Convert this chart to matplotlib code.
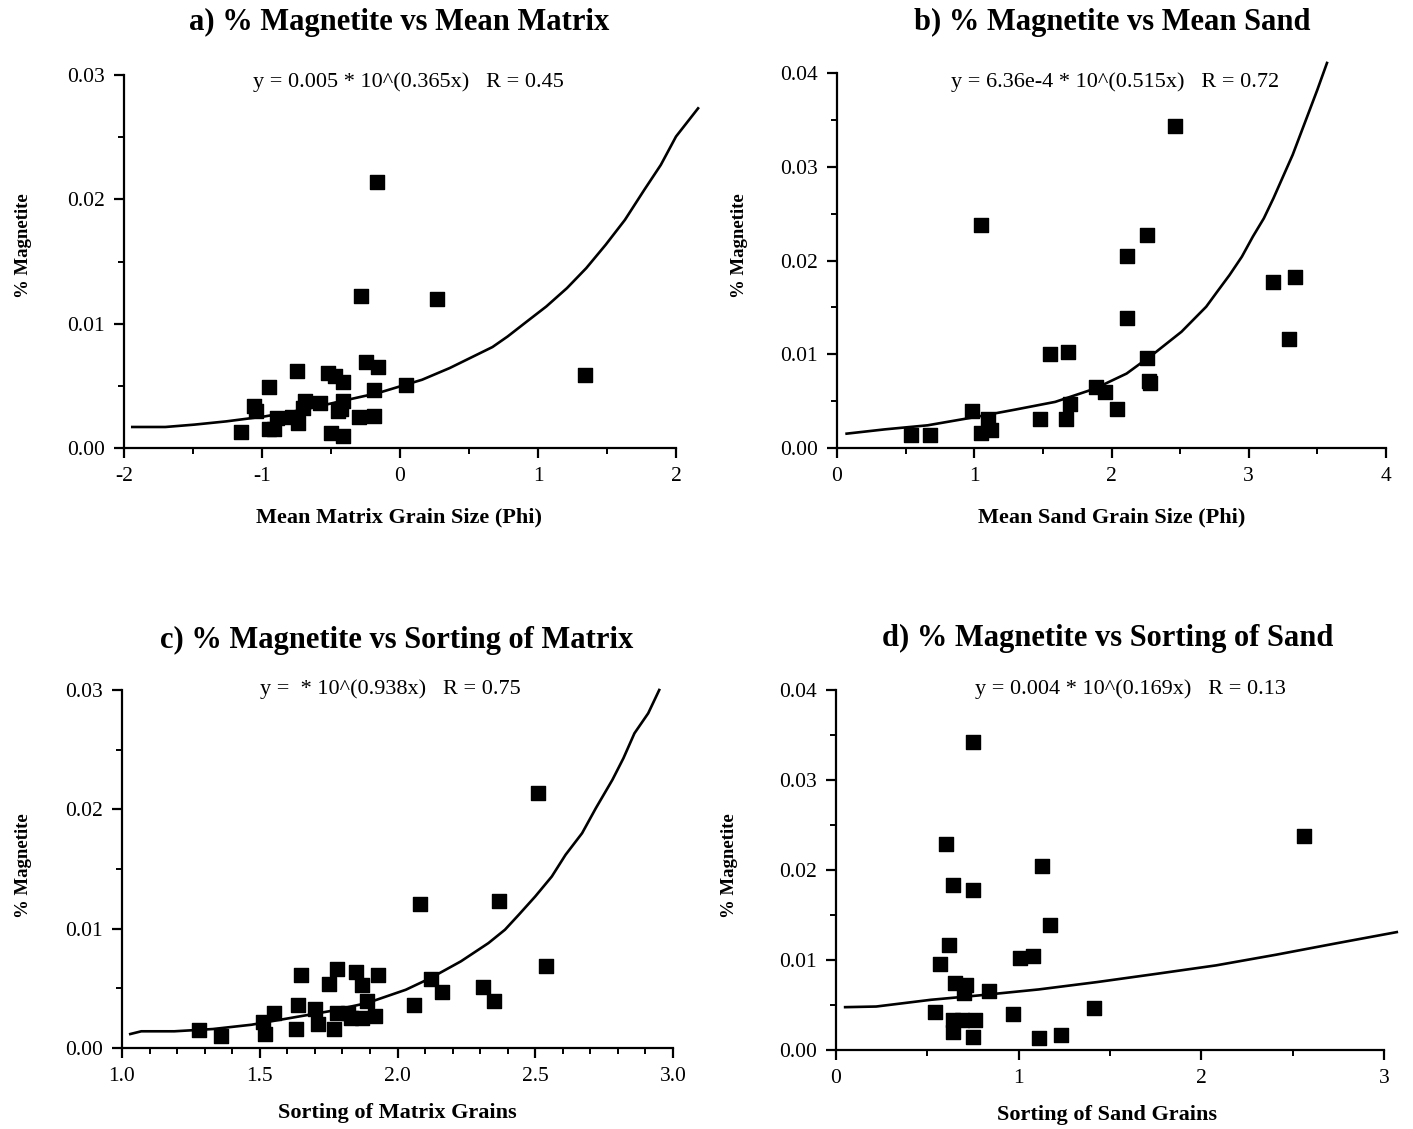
import numpy as np
import matplotlib
matplotlib.use("Agg")
import matplotlib.pyplot as plt
from matplotlib.ticker import MultipleLocator, FormatStrFormatter

plt.rcParams['font.family'] = ['Liberation Serif', 'DejaVu Serif']

W, H = 1413, 1129

# ---- panel a: mean matrix grain size
a_x = [-0.17, -0.28, 0.27, 1.34, -0.75, -0.95, -0.25, -0.16, -0.52, -0.47, -0.41, 0.04,
       -0.19, -1.06, -1.04, -0.69, -0.58, -0.41, -0.43, -0.45, -0.70, -0.78, -0.74, -0.89,
       -0.95, -0.91, -1.15, -0.30, -0.19, -0.50, -0.41]
a_y = [0.0214, 0.0122, 0.0120, 0.0059, 0.0062, 0.0049, 0.0069, 0.0065, 0.0060, 0.0058,
       0.0053, 0.0051, 0.0047, 0.0034, 0.0030, 0.0038, 0.0036, 0.0038, 0.0031, 0.0030,
       0.0032, 0.0025, 0.0020, 0.0024, 0.0015, 0.0015, 0.0013, 0.0025, 0.0026, 0.0012,
       0.0010]
a_fit_x = [-1.94, -1.70, -1.49, -1.26, -0.98, -0.70, -0.38, -0.16, 0.16, 0.36, 0.67, 0.78,
           0.92, 1.06, 1.21, 1.35, 1.49, 1.63, 1.77, 1.89, 2.00, 2.16]
a_fit_y = [0.00169, 0.00169, 0.00188, 0.00214, 0.00254, 0.00308, 0.00388, 0.00442, 0.00549,
           0.00643, 0.00812, 0.00897, 0.01018, 0.01138, 0.01286, 0.01447, 0.01634, 0.01835,
           0.02076, 0.02277, 0.02505, 0.02732]

# ---- panel b: mean sand grain size
b_x = [2.46, 1.05, 2.26, 2.11, 3.18, 3.34, 2.11, 3.29, 1.55, 1.68, 2.26, 2.27, 2.28, 1.89,
       1.95, 1.70, 2.04, 0.98, 1.10, 1.48, 1.67, 1.12, 1.05, 0.54, 0.68]
b_y = [0.0344, 0.0238, 0.0227, 0.0205, 0.0177, 0.0182, 0.0139, 0.0116, 0.0100, 0.0102,
       0.0096, 0.0071, 0.0069, 0.0065, 0.0060, 0.0047, 0.0042, 0.0040, 0.0031, 0.0031,
       0.0031, 0.0019, 0.0016, 0.0014, 0.0014]
b_fit_x = [0.07, 0.35, 0.66, 1.01, 1.30, 1.59, 1.88, 2.11, 2.31, 2.51, 2.69, 2.77, 2.86,
           2.95, 3.03, 3.11, 3.18, 3.25, 3.32, 3.38, 3.44, 3.50, 3.57]
b_fit_y = [0.00153, 0.00199, 0.00242, 0.00331, 0.0041, 0.00492, 0.00634, 0.00794, 0.01008,
           0.0124, 0.01507, 0.01667, 0.01845, 0.02041, 0.02255, 0.0245, 0.02664, 0.02896,
           0.03127, 0.03359, 0.0359, 0.03822, 0.04107]

# ---- panel c: sorting of matrix
c_x = [2.51, 2.08, 2.37, 2.54, 1.65, 1.78, 1.85, 1.93, 1.75, 1.87, 2.12, 2.31, 2.16, 2.06,
       2.35, 1.64, 1.70, 1.89, 1.55, 1.51, 1.78, 1.82, 1.83, 1.87, 1.92, 1.71, 1.63, 1.77,
       1.52, 1.28, 1.36]
c_y = [0.0214, 0.0121, 0.0123, 0.0069, 0.0061, 0.0066, 0.0064, 0.0061, 0.0054, 0.0053,
       0.0058, 0.0051, 0.0047, 0.0036, 0.0039, 0.0036, 0.0033, 0.0039, 0.0029, 0.0022,
       0.0029, 0.0029, 0.0025, 0.0025, 0.0027, 0.0020, 0.0016, 0.0016, 0.0012, 0.0015,
       0.0010]
c_fit_x = [1.03, 1.07, 1.19, 1.33, 1.47, 1.61, 1.75, 1.89, 2.03, 2.12, 2.23, 2.33, 2.39,
           2.44, 2.50, 2.56, 2.61, 2.67, 2.72, 2.78, 2.82, 2.86, 2.91, 2.95]
c_fit_y = [0.00117, 0.0014, 0.0014, 0.00159, 0.00195, 0.00251, 0.00307, 0.00377, 0.00488,
           0.00586, 0.00726, 0.00879, 0.00991, 0.01116, 0.0127, 0.01437, 0.01619, 0.018,
           0.0201, 0.02247, 0.02428, 0.02637, 0.02805, 0.0300]

# ---- panel d: sorting of sand
d_x = [0.75, 2.56, 0.60, 1.13, 0.64, 0.75, 1.17, 0.62, 0.57, 1.01, 1.08, 0.65, 0.71, 0.70,
       0.84, 1.41, 0.54, 0.97, 0.64, 0.69, 0.76, 0.64, 0.75, 1.11, 1.23]
d_y = [0.0342, 0.0238, 0.0229, 0.0205, 0.0183, 0.0178, 0.0139, 0.0117, 0.0096, 0.0102,
       0.0104, 0.0074, 0.0072, 0.0063, 0.0066, 0.0047, 0.0042, 0.0040, 0.0033, 0.0033,
       0.0033, 0.0020, 0.0014, 0.0013, 0.0017]
d_fit_x = [0.05, 0.22, 0.52, 0.78, 1.11, 1.43, 1.76, 2.08, 2.41, 2.73, 3.07]
d_fit_y = [0.00476, 0.00483, 0.00558, 0.00606, 0.00673, 0.00755, 0.00848, 0.0094,
           0.01059, 0.01182, 0.0131]

titles = ["a) % Magnetite vs Mean Matrix", "b) % Magnetite vs Mean Sand",
          "c) % Magnetite vs Sorting of Matrix", "d) % Magnetite vs Sorting of Sand"]
equations = ["y = 0.005 * 10^(0.365x)   R = 0.45", "y = 6.36e-4 * 10^(0.515x)   R = 0.72",
             "y =  * 10^(0.938x)   R = 0.75", "y = 0.004 * 10^(0.169x)   R = 0.13"]
xlabels = ["Mean Matrix Grain Size (Phi)", "Mean Sand Grain Size (Phi)",
           "Sorting of Matrix Grains", "Sorting of Sand Grains"]
ylabel = "% Magnetite"


def fx(px):
    return px / W


def fy(py):
    return 1 - py / H


fig = plt.figure(figsize=(W / 100, H / 100), dpi=100)

# pixel boxes: left, right, top, bottom of the axes
boxes = [(124, 676, 75, 448), (837, 1386, 73, 448), (122, 673, 690, 1048), (836, 1384, 690, 1050)]
panels = [
    (a_x, a_y, a_fit_x, a_fit_y, (-2, 2), (0, 0.03), 1, 0.5, 0.01, 0.005, "%.0f"),
    (b_x, b_y, b_fit_x, b_fit_y, (0, 4), (0, 0.04), 1, 0.5, 0.01, 0.005, "%.0f"),
    (c_x, c_y, c_fit_x, c_fit_y, (1, 3), (0, 0.03), 0.5, 0.1, 0.01, 0.005, "%.1f"),
    (d_x, d_y, d_fit_x, d_fit_y, (0, 3), (0, 0.04), 1, 0.5, 0.01, 0.005, "%.0f"),
]
title_pos = [(399, 22), (1112, 22), (397, 640), (1108, 638)]
eq_pos = [(408, 82), (1115, 82), (390, 689), (1130, 689)]
xl_pos = [(399, 517), (1112, 517), (397, 1113), (1107, 1115)]
yl_pos = [(24, 246), (740, 246), (24, 866), (730, 866)]

for i, (box, p) in enumerate(zip(boxes, panels)):
    l, r, t, b = box
    ax = fig.add_axes([fx(l), fy(b), (r - l) / W, (b - t) / H])
    xs, ys, fxs, fys, xlim, ylim, xmaj, xmin, ymaj, ymin, xfmt = p
    ax.scatter(xs, ys, marker='s', s=95, color='black', zorder=3, clip_on=False)
    ax.plot(fxs, fys, color='black', lw=1.9, clip_on=False)
    ax.set_xlim(*xlim)
    ax.set_ylim(*ylim)
    for side in ['top', 'right']:
        ax.spines[side].set_visible(False)
    for side in ['left', 'bottom']:
        ax.spines[side].set_linewidth(1.6)
    ax.xaxis.set_major_locator(MultipleLocator(xmaj))
    ax.xaxis.set_minor_locator(MultipleLocator(xmin))
    ax.yaxis.set_major_locator(MultipleLocator(ymaj))
    ax.yaxis.set_minor_locator(MultipleLocator(ymin))
    ax.xaxis.set_major_formatter(FormatStrFormatter(xfmt))
    ax.yaxis.set_major_formatter(FormatStrFormatter("%.2f"))
    ax.tick_params(which='major', direction='out', length=7, width=1.6, labelsize=15.5, pad=7)
    ax.tick_params(which='minor', direction='out', length=4, width=1.4)

    fig.text(fx(title_pos[i][0]), fy(title_pos[i][1]), titles[i], ha='center', va='center',
             fontsize=22, fontweight='bold')
    fig.text(fx(eq_pos[i][0]), fy(eq_pos[i][1]), equations[i], ha='center', va='center',
             fontsize=16)
    fig.text(fx(xl_pos[i][0]), fy(xl_pos[i][1]), xlabels[i], ha='center', va='center',
             fontsize=16, fontweight='bold')
    fig.text(fx(yl_pos[i][0]), fy(yl_pos[i][1]), ylabel, ha='center', va='center',
             fontsize=13.5, fontweight='bold', rotation=90)

fig.savefig("out.png", dpi=100)
